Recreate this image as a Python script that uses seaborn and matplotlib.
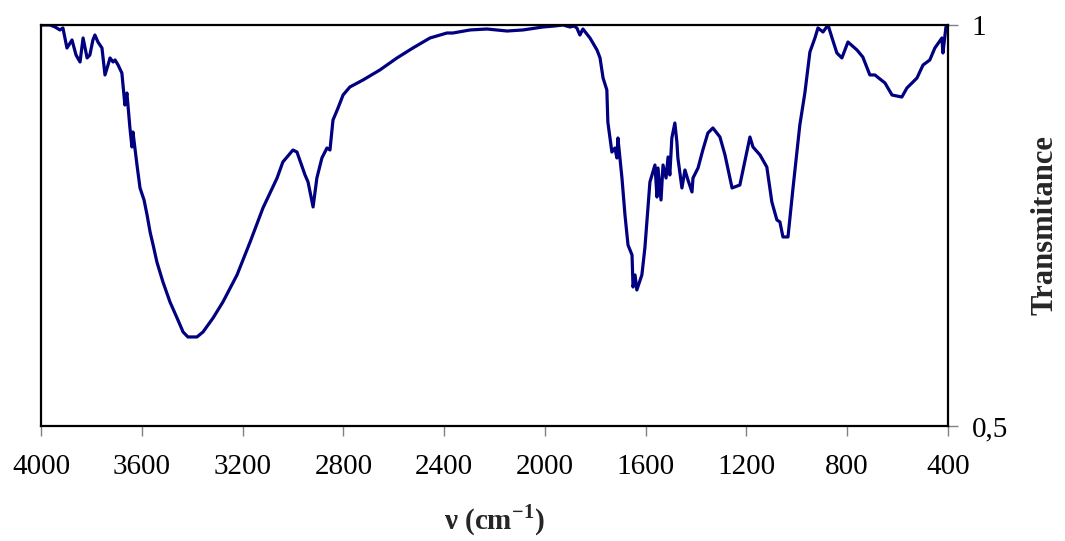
import numpy as np
import pandas as pd
import seaborn as sns
import matplotlib.pyplot as plt

# IR spectrum
wavenumber = [4000, 3964, 3944, 3925, 3913, 3897, 3877, 3861, 3845, 3833, 3817, 3806, 3794, 3786,
              3774, 3758, 3746, 3734, 3726, 3714, 3706, 3694, 3679, 3667, 3659, 3647, 3639, 3635,
              3619, 3607, 3591, 3579, 3567, 3555, 3540, 3516, 3488, 3460, 3436, 3417, 3381, 3357,
              3317, 3278, 3222, 3170, 3119, 3063, 3040, 3000, 2984, 2952, 2940, 2920, 2905, 2885,
              2865, 2853, 2841, 2821, 2801, 2774, 2722, 2655, 2587, 2524, 2456, 2389, 2365, 2297,
              2230, 2150, 2087, 2008, 1960, 1928, 1900, 1885, 1873, 1861, 1849, 1821, 1793, 1781,
              1769, 1754, 1750, 1734, 1722, 1714, 1710, 1694, 1682, 1670, 1654, 1650, 1642, 1635,
              1615, 1603, 1583, 1563, 1555, 1551, 1539, 1531, 1519, 1511, 1504, 1496, 1484, 1476,
              1472, 1456, 1444, 1432, 1416, 1412, 1392, 1373, 1353, 1333, 1305, 1285, 1257, 1226,
              1186, 1174, 1146, 1119, 1099, 1079, 1067, 1055, 1035, 1015, 988, 968, 948, 928,
              916, 896, 876, 860, 841, 821, 797, 761, 738, 710, 690, 650, 622, 583,
              563, 523, 499, 472, 452, 424, 420, 408, 400]
transmittance = [1.000, 1.000, 0.9975, 0.9938, 0.9963, 0.9713, 0.9813, 0.9626, 0.9539, 0.9838, 0.9589, 0.9626, 0.9813, 0.9875,
                 0.9788, 0.9713, 0.9377, 0.9501, 0.9589, 0.9539, 0.9564, 0.9501, 0.9401, 0.9002, 0.9152, 0.8716, 0.8479, 0.8666,
                 0.8254, 0.7968, 0.7818, 0.7631, 0.7419, 0.7257, 0.7045, 0.6796, 0.6546, 0.6347, 0.6172, 0.6110, 0.6110, 0.6172,
                 0.6347, 0.6546, 0.6883, 0.7294, 0.7718, 0.8092, 0.8292, 0.8441, 0.8416, 0.8130, 0.8042, 0.7731, 0.8092, 0.8342,
                 0.8466, 0.8441, 0.8815, 0.8965, 0.9127, 0.9227, 0.9314, 0.9439, 0.9589, 0.9713, 0.9838, 0.9900, 0.9900, 0.9938,
                 0.9950, 0.9925, 0.9938, 0.9975, 0.9988, 1.000, 0.9975, 0.9988, 0.9963, 0.9875, 0.9950, 0.9838, 0.9688, 0.9589,
                 0.9339, 0.9190, 0.8790, 0.8416, 0.8466, 0.8342, 0.8591, 0.8092, 0.7631, 0.7257, 0.7132, 0.6733, 0.6883, 0.6696,
                 0.6883, 0.7219, 0.8042, 0.8254, 0.7855, 0.8217, 0.7818, 0.8254, 0.8092, 0.8354, 0.8130, 0.8591, 0.8778, 0.8541,
                 0.8342, 0.7968, 0.8192, 0.8067, 0.7918, 0.8092, 0.8217, 0.8441, 0.8653, 0.8716, 0.8603, 0.8379, 0.7968, 0.8005,
                 0.8603, 0.8479, 0.8379, 0.8229, 0.7793, 0.7569, 0.7544, 0.7357, 0.7357, 0.7968, 0.8753, 0.9152, 0.9663, 0.9838,
                 0.9963, 0.9913, 1.000, 0.9838, 0.9651, 0.9589, 0.9788, 0.9688, 0.9601, 0.9377, 0.9377, 0.9277, 0.9127, 0.9102,
                 0.9214, 0.9339, 0.9501, 0.9564, 0.9713, 0.9838, 0.9651, 0.9975, 1.000]

x_ticks = [4000, 3600, 3200, 2800, 2400, 2000, 1600, 1200, 800, 400]
y_ticks = [0.5, 1]
y_tick_labels = ['0,5', '1']

df = pd.DataFrame({'nu': wavenumber, 'T': transmittance})

sns.set_style('ticks')
plt.rcParams['font.family'] = ['Liberation Serif', 'DejaVu Serif']
plt.rcParams['mathtext.fontset'] = 'custom'
plt.rcParams['mathtext.rm'] = 'Liberation Serif'
plt.rcParams['mathtext.bf'] = 'Liberation Serif:bold'

fig = plt.figure(figsize=(10.65, 5.41), dpi=100)
ax = fig.add_axes([0.0385, 0.2126, 0.8516, 0.7412])

sns.lineplot(data=df, x='nu', y='T', sort=False, color='#000080', linewidth=2.3, ax=ax)

ax.set_xlim(4000, 400)
ax.set_ylim(0.5, 1)
ax.set_xticks(x_ticks)
ax.set_xticklabels([str(t) for t in x_ticks])
ax.set_yticks(y_ticks)
ax.set_yticklabels(y_tick_labels)

ax.yaxis.tick_right()
ax.yaxis.set_label_position('right')
ax.tick_params(axis='both', labelsize=21, colors='#808080', labelcolor='black',
               length=7, width=1, direction='out')
ax.tick_params(axis='x', pad=13)
ax.tick_params(axis='y', pad=10)

for sp in ax.spines.values():
    sp.set_visible(True)
    sp.set_color('black')
    sp.set_linewidth(1.6)

ax.set_xlabel('ν (cm$^{\\mathbf{-1}}$)', fontsize=21, fontweight='bold', labelpad=16)
ax.set_ylabel('Transmitance', fontsize=22, fontweight='bold', rotation=90, labelpad=16)

fig.savefig('out.png', dpi=100)
